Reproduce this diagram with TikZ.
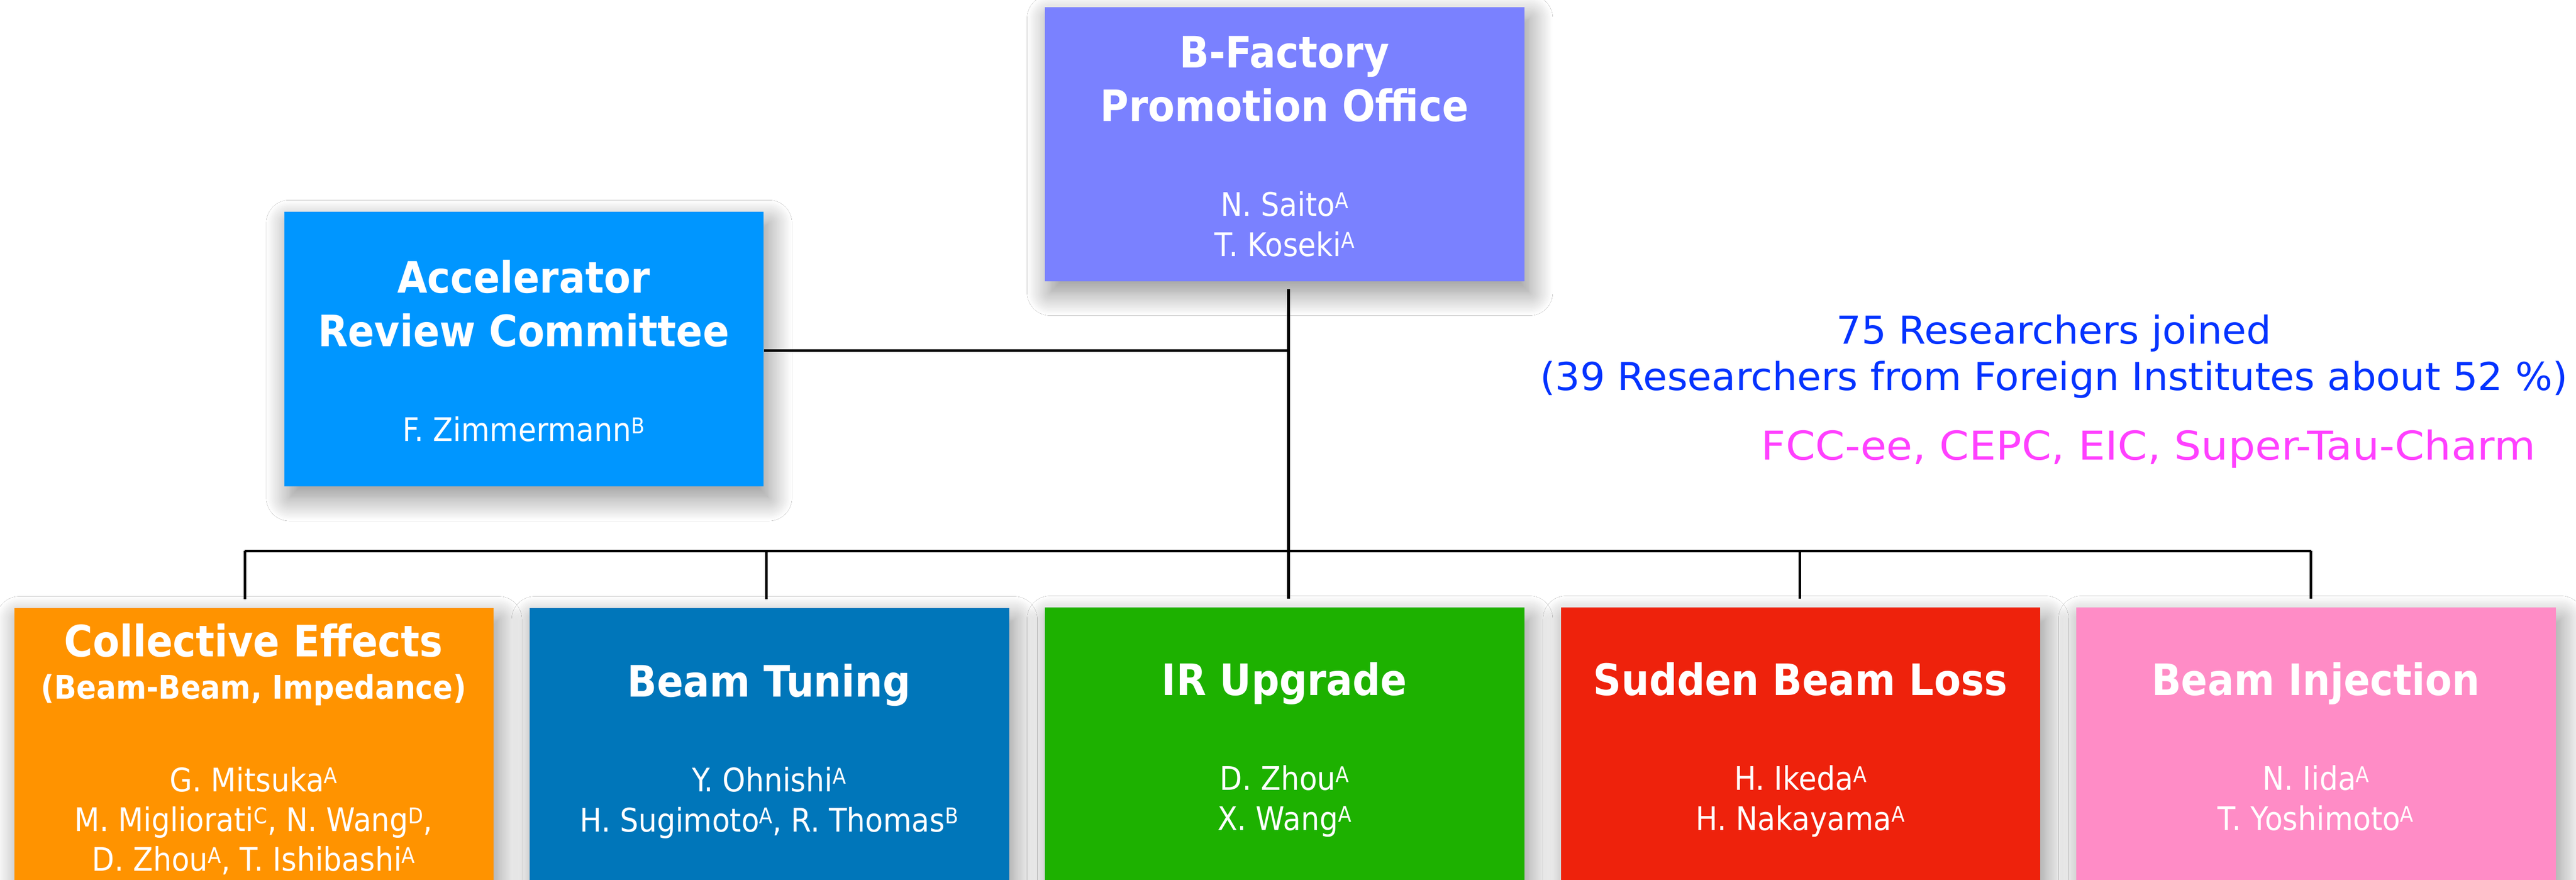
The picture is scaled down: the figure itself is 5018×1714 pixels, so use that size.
\documentclass[tikz,border=0pt]{standalone}
\usepackage{fontspec}
\setmainfont{DejaVu Sans}
\newfontfamily\boxfont[FakeStretch=0.9]{DejaVu Sans}
\newfontfamily\notefont[FakeStretch=1.02]{DejaVu Sans}
\newfontfamily\notefontb[FakeStretch=1.07]{DejaVu Sans}
\usetikzlibrary{shadows.blur}
\definecolor{cTop}{HTML}{7A81FF}
\definecolor{cAcc}{HTML}{0096FF}
\definecolor{cOra}{HTML}{FF9300}
\definecolor{cTun}{HTML}{0076BA}
\definecolor{cGrn}{HTML}{1DB100}
\definecolor{cRed}{HTML}{EE220C}
\definecolor{cPnk}{HTML}{FF8CC6}
\definecolor{cBlu}{HTML}{0433FF}
\definecolor{cMag}{HTML}{FF40FF}
\newcommand{\upsc}[1]{\raisebox{4.4pt}{\fontsize{12}{12}\selectfont #1}}
\tikzset{
  orgbox/.style={draw=none, fill=#1, anchor=north west, inner sep=0pt,
    minimum width=93.4mm,
    blur shadow={shadow xshift=1mm, shadow yshift=-2.2mm, shadow blur steps=20,
      shadow blur radius=4.5mm, shadow opacity=45}},
  ttl/.style={text=white, font=\boxfont\bfseries\fontsize{24}{29.6}\selectfont, align=center, anchor=base, inner sep=0pt},
  subttl/.style={text=white, font=\boxfont\bfseries\fontsize{18}{22}\selectfont, align=center, anchor=base, inner sep=0pt},
  nms/.style={text=white, font=\boxfont\fontsize{18}{22.1}\selectfont, align=center, anchor=base, inner sep=0pt},
  conn/.style={line width=1.45pt, black},
  note/.style={font=\notefont\fontsize{21.3}{25.6}\selectfont, align=center, anchor=base, inner sep=0pt}
}
\begin{document}
\begin{tikzpicture}[x=0.1mm, y=-0.1mm]
\useasboundingbox (0,0) rectangle (5018,1714);
\clip (0,0) rectangle (5018,1714);
\fill[white] (0,0) rectangle (5018,1714);

% connector points
\coordinate (hub) at (2510,1073);
\coordinate (acchub) at (2510,683);
\coordinate (d1) at (477,1073);
\coordinate (d2) at (1493,1073);
\coordinate (d4) at (3506,1073);
\coordinate (d5) at (4502,1073);
\coordinate (trunktop) at (2510,563);

% boxes
\node[orgbox=cTop, minimum height=53.4mm] (top) at (2035,13) {};
\node[orgbox=cAcc, minimum height=53.5mm] (acc) at (553,412) {};
\node[orgbox=cOra, minimum height=60mm] (ce) at (27,1184) {};
\node[orgbox=cTun, minimum height=60mm] (bt) at (1031,1184) {};
\node[orgbox=cGrn, minimum height=60mm] (ir) at (2035,1183) {};
\node[orgbox=cRed, minimum height=60mm] (sb) at (3040,1183) {};
\node[orgbox=cPnk, minimum height=60mm] (bi) at (4044,1183) {};

\draw[conn] (trunktop) -- (hub);
\draw[conn] (acc.east |- acchub) -- (acchub);
\draw[conn] (d1) -- (d5);
\draw[conn, shorten >=1.7mm] (d1) -- (d1 |- ce.north);
\draw[conn, shorten >=1.7mm] (d2) -- (d2 |- bt.north);
\draw[conn, shorten >=1.7mm] (hub) -- (hub |- ir.north);
\draw[conn, shorten >=1.7mm] (d4) -- (d4 |- sb.north);
\draw[conn, shorten >=1.7mm] (d5) -- (d5 |- bi.north);

% texts (base anchor = baseline of last line)
\node[ttl] (topt) at (2502,236) {B-Factory\\Promotion Office};
\node[nms] (topn) at (2502,499) {N. Saito\upsc{A}\\T. Koseki\upsc{A}};
\node[ttl] (acct) at (1020,675) {Accelerator\\Review Committee};
\node[nms] (accn) at (1020,860) {F. Zimmermann\upsc{B}};
\node[ttl] (cet) at (494,1279) {Collective Effects};
\node[subttl] (ces) at (494,1361) {(Beam-Beam, Impedance)};
\node[nms] (cen) at (494,1697) {G. Mitsuka\upsc{A}\\M. Migliorati\upsc{C}, N. Wang\upsc{D},\\D. Zhou\upsc{A}, T. Ishibashi\upsc{A}};
\node[ttl] (btt) at (1498,1357) {Beam Tuning};
\node[nms] (btn) at (1498,1620) {Y. Ohnishi\upsc{A}\\H. Sugimoto\upsc{A}, R. Thomas\upsc{B}};
\node[ttl] (irt) at (2502,1354) {IR Upgrade};
\node[nms] (irn) at (2502,1617) {D. Zhou\upsc{A}\\X. Wang\upsc{A}};
\node[ttl] (sbt) at (3507,1354) {Sudden Beam Loss};
\node[nms] (sbn) at (3507,1617) {H. Ikeda\upsc{A}\\H. Nakayama\upsc{A}};
\node[ttl] (bit) at (4511,1354) {Beam Injection};
\node[nms] (bin) at (4511,1617) {N. Iida\upsc{A}\\T. Yoshimoto\upsc{A}};

% notes
\node[note, text=cBlu] (n1) at (4001,760) {75 Researchers joined\\(39 Researchers from Foreign Institutes about 52 \%)};
\node[note, text=cMag, font=\notefontb\fontsize{22}{26}\selectfont] (n2) at (4185,896) {FCC-ee, CEPC, EIC, Super-Tau-Charm};
\end{tikzpicture}
\end{document}
